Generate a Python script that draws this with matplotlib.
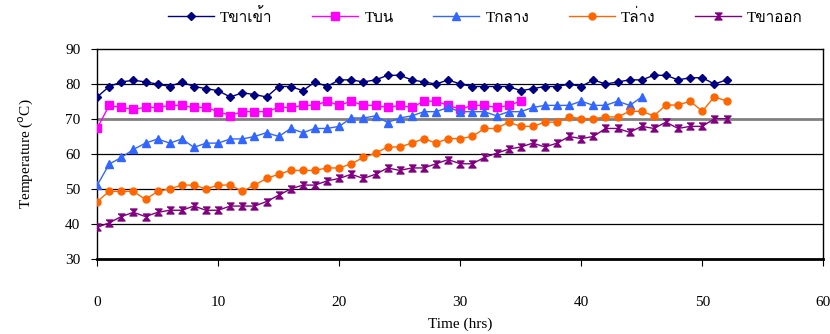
import matplotlib
matplotlib.use("Agg")
import matplotlib.pyplot as plt
from matplotlib import font_manager
from fontTools.ttLib import TTFont

# ค่าอุณหภูมิรายชั่วโมง (อ่านจากกราฟ)
t_in = [76.3, 79.3, 80.6, 81.1, 80.6, 80.0, 79.3, 80.6, 79.3, 78.7,
        78.1, 76.3, 77.5, 77.0, 76.3, 79.3, 79.3, 78.1, 80.6, 79.3,
        81.2, 81.2, 80.6, 81.2, 82.5, 82.5, 81.2, 80.6, 80.0, 81.2,
        80.0, 79.3, 79.3, 79.3, 79.3, 78.1, 78.7, 79.3, 79.3, 80.0,
        79.3, 81.2, 80.0, 80.6, 81.2, 81.2, 82.5, 82.5, 81.2, 81.8,
        81.8, 80.0, 81.2]
t_top = [67.3, 73.9, 73.3, 72.8, 73.3, 73.3, 73.9, 73.9, 73.3, 73.3,
         72.1, 71.0, 72.1, 72.1, 72.1, 73.3, 73.3, 73.9, 73.9, 75.1,
         73.9, 75.1, 73.9, 73.9, 73.3, 73.9, 73.3, 75.1, 75.1, 73.9,
         72.8, 73.9, 73.9, 73.3, 73.9, 75.1]
t_mid = [51.0, 57.1, 59.0, 61.3, 63.1, 64.3, 63.1, 64.3, 61.9, 63.1,
         63.1, 64.3, 64.3, 65.0, 66.1, 65.0, 67.3, 66.1, 67.3, 67.3,
         67.9, 70.3, 70.3, 70.9, 69.0, 70.3, 70.9, 72.1, 72.1, 73.3,
         72.1, 72.1, 72.1, 70.9, 72.1, 72.1, 73.3, 73.9, 73.9, 73.9,
         75.1, 73.9, 73.9, 75.1, 73.9, 76.3]
t_low = [46.4, 49.3, 49.3, 49.3, 47.0, 49.3, 50.0, 51.1, 51.1, 50.0,
         51.1, 51.1, 49.3, 51.1, 53.0, 54.2, 55.3, 55.3, 55.3, 56.0,
         56.0, 57.2, 59.0, 60.2, 62.0, 62.0, 63.1, 64.4, 63.1, 64.4,
         64.4, 65.0, 67.3, 67.3, 69.1, 67.9, 67.9, 69.1, 69.1, 70.6,
         70.1, 70.1, 70.6, 70.6, 72.2, 72.2, 70.9, 74.0, 74.0, 75.1,
         72.2, 76.4, 75.1]
t_out = [39.0, 40.3, 42.1, 43.3, 42.1, 43.3, 43.9, 43.9, 45.1, 43.9,
         43.9, 45.1, 45.1, 45.1, 46.4, 48.2, 50.0, 51.1, 51.1, 52.3,
         53.0, 54.2, 53.0, 54.2, 56.0, 55.3, 56.0, 56.0, 57.2, 58.4,
         57.2, 57.2, 59.0, 60.2, 61.4, 62.0, 63.1, 62.0, 63.1, 65.0,
         64.4, 65.0, 67.3, 67.3, 66.2, 67.9, 67.3, 69.1, 67.3, 67.9,
         67.9, 70.1, 70.1]

labels = ["Tขาเข้า", "Tบน", "Tกลาง", "Tล่าง", "Tขาออก"]
colors = ["#000080", "#ff00ff", "#3366ff", "#ff6600", "#800080"]
x_ticks = [0, 10, 20, 30, 40, 50, 60]
y_ticks = [30, 40, 50, 60, 70, 80, 90]


def thai_font():
    # หา font ที่มีอักษรไทย
    for f in font_manager.fontManager.ttflist:
        try:
            cmap = TTFont(f.fname, fontNumber=0, lazy=True).getBestCmap()
        except Exception:
            continue
        if cmap and 0x0E02 in cmap and 0x0E49 in cmap:
            return f.name
    return None


fam = ["Liberation Serif"]
tf = thai_font()
if tf:
    fam.append(tf)
fam.append("DejaVu Sans")
plt.rcParams["font.family"] = fam

# marker รูปนาฬิกาทราย (แบบ Excel)
hourglass = [(-1, 1), (1, 1), (0.15, 0), (1, -1), (-1, -1), (-0.15, 0)]
markers = ["D", "s", "^", "o", hourglass]
sizes = [4.2, 5.5, 5.5, 5.0, 5.0]
series = [t_in, t_top, t_mid, t_low, t_out]

fig = plt.figure(figsize=(8.3, 3.34), dpi=100)
ax = fig.add_axes([0.117, 0.225, 0.875, 0.628])

for y in y_ticks[1:-1]:
    if y == 70:
        ax.axhline(y, color="#808080", lw=2.0, zorder=1)
    else:
        ax.axhline(y, color="black", lw=0.9, zorder=1)

for vals, lab, c, m, s in zip(series, labels, colors, markers, sizes):
    ax.plot(range(len(vals)), vals, color=c, marker=m, ms=s, lw=1.0,
            mec=c, mfc=c, label=lab, zorder=3)

ax.set_xlim(0, 60)
ax.set_ylim(30, 90)
ax.set_xticks(x_ticks)
ax.set_yticks(y_ticks)
ax.tick_params(axis="x", direction="out", length=5, pad=22, labelsize=11)
ax.tick_params(axis="y", direction="out", length=4, pad=8, labelsize=11)
for sp in ax.spines.values():
    sp.set_linewidth(1.0)
ax.spines["bottom"].set_linewidth(2.0)

ax.set_xlabel("Time (hrs)", fontsize=11, labelpad=6)
ax.set_ylabel("Temperature ($^{\\mathrm{o}}$C)", fontsize=11, labelpad=22)

fig.legend(loc="center", bbox_to_anchor=(0.585, 0.952), ncol=5,
           frameon=False, fontsize=11, handlelength=3.0,
           handletextpad=0.4, columnspacing=2.6)

fig.savefig("out.png", dpi=100)
